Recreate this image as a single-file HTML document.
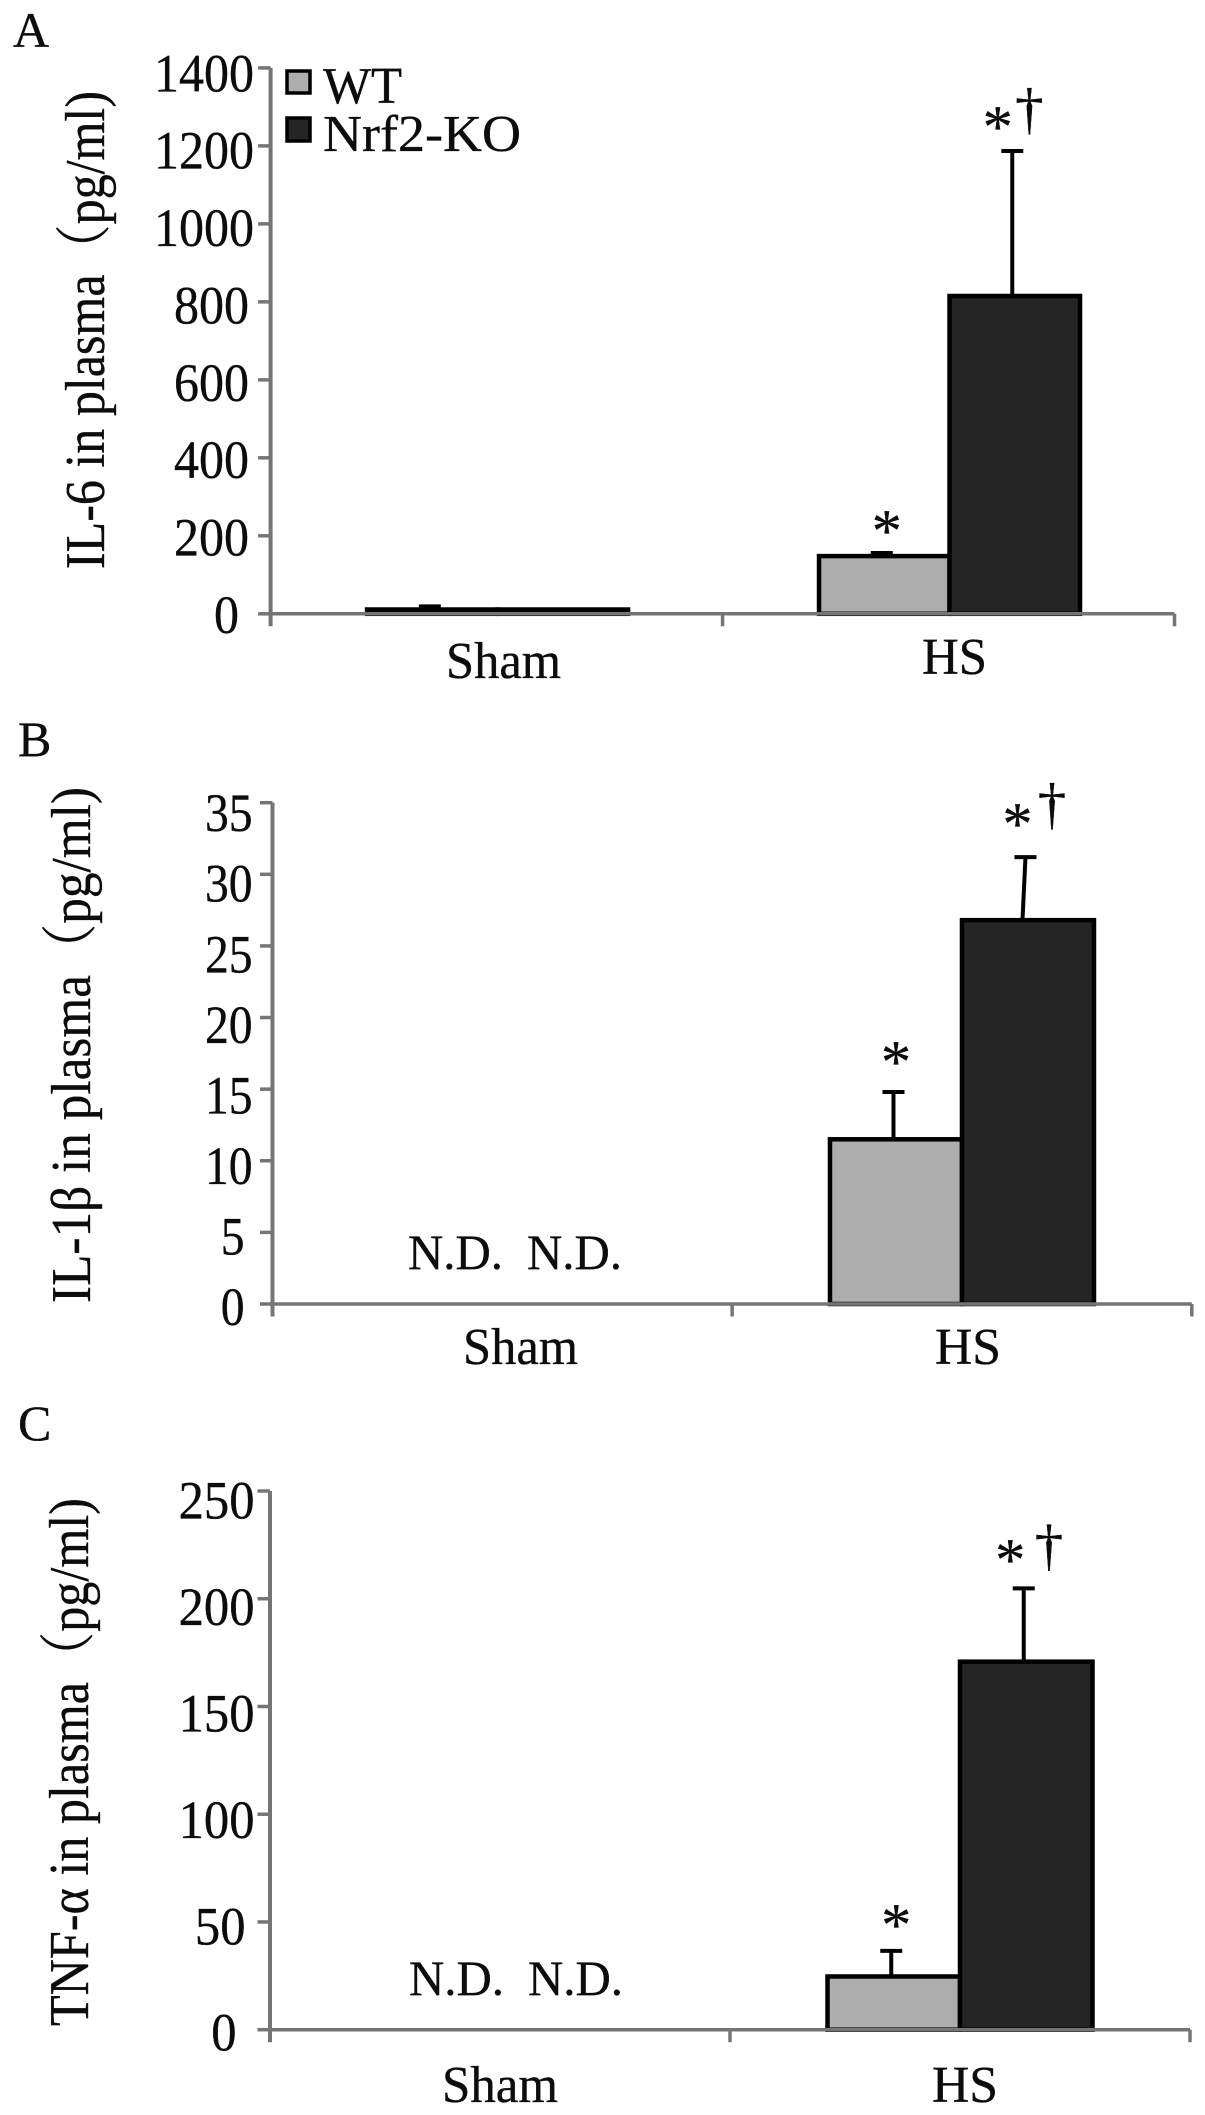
<!DOCTYPE html>
<html lang="en">
<head>
<meta charset="utf-8">
<title>Plasma cytokines in WT and Nrf2-KO</title>
<style>
  html, body { margin: 0; padding: 0; background: #fff; }
  svg { display: block; }
  text { font-family: "Liberation Serif", "Noto Serif CJK SC", serif; fill: #0c0c0c; stroke: #0c0c0c; stroke-width: 0.35; }
</style>
</head>
<body>
<svg id="figure" xmlns="http://www.w3.org/2000/svg" width="1205" height="2115" viewBox="0 0 1205 2115">
  <rect x="0" y="0" width="1205" height="2115" fill="#ffffff"/>

  <text x="13" y="47" font-size="50">A</text>
  <text x="18" y="756" font-size="50">B</text>
  <text x="18" y="1440" font-size="50">C</text>

  <text transform="rotate(-90 104 569)" x="104" y="569" font-size="56" textLength="478" lengthAdjust="spacingAndGlyphs">IL-6 in plasma（pg/ml)</text>
  <text transform="rotate(-90 90 1303)" x="90" y="1303" font-size="56" textLength="516" lengthAdjust="spacingAndGlyphs">IL-1β in plasma（pg/ml)</text>
  <text transform="rotate(-90 88 2026)" x="88" y="2026" font-size="56" textLength="528" lengthAdjust="spacingAndGlyphs">TNF-α in plasma（pg/ml)</text>

  <g id="panel-a"></g>
  <g id="panel-b"></g>
  <g id="panel-c"></g>

  <g>
    <rect x="287" y="71" width="23" height="22" fill="#adadad" stroke="#000" stroke-width="3.5"/>
    <text x="323" y="103" font-size="52" textLength="79" lengthAdjust="spacingAndGlyphs">WT</text>
    <rect x="287" y="118" width="23" height="23" fill="#252525" stroke="#000" stroke-width="3.5"/>
    <text x="323" y="151" font-size="52" textLength="198" lengthAdjust="spacingAndGlyphs">Nrf2-KO</text>
  </g>
</svg>

<script>
// ---- Chart data ----
const categories = ['Sham', 'HS'];

const il6Ticks = [0, 200, 400, 600, 800, 1000, 1200, 1400];
const il6Wt = [11, 148];
const il6Ko = [11, 815];
const il6WtErrTop = [19, 156];
const il6KoErrTop = [11, 1187];

const il1bTicks = [0, 5, 10, 15, 20, 25, 30, 35];
const il1bWt = [null, 11.5];
const il1bKo = [null, 26.8];
const il1bWtErrTop = [null, 14.8];
const il1bKoErrTop = [null, 31.2];

const tnfaTicks = [0, 50, 100, 150, 200, 250];
const tnfaWt = [null, 24.7];
const tnfaKo = [null, 170.8];
const tnfaWtErrTop = [null, 36.6];
const tnfaKoErrTop = [null, 204.8];

const notDetectedLabel = 'N.D.';
const wtMarker = '*';
const koMarkerStar = '*';
const koMarkerDagger = '†';

// ---- Layout of each panel ----
const layoutA = {
  id: 'panel-a', x0: 270.6, x1: 1174.5, yTop: 67.9, yBottom: 613.8, yMax: 1400,
  barW: 130.5, shift: 1, stemShift: -2.5, koLean: 0,
  labelRight: 254, labelStep: 5, digitW: 25, tickDyBottom: 19, tickDyTop: 23.5,
  catBase: [678, 674], catX: [446, 922], catW: [115, 65],
  ndX: [], ndBase: 0,
  wtStar: [2.5, -28], koStar: [-17, -30], dagger: [14.6, -40]
};
const layoutB = {
  id: 'panel-b', x0: 272.5, x1: 1191.8, yTop: 802.7, yBottom: 1304, yMax: 35,
  barW: 132, shift: 0, stemShift: -2.5, koLean: -3,
  labelRight: 252.6, labelStep: 8, digitW: 23.8, tickDyBottom: 21, tickDyTop: 28.5,
  catBase: [1364, 1364], catX: [463, 935], catW: [115, 66],
  ndX: [408, 527], ndBase: 1269,
  wtStar: [0, -36], koStar: [-10.5, -39], dagger: [24, -51]
};
const layoutC = {
  id: 'panel-c', x0: 270, x1: 1190, yTop: 1491, yBottom: 2029.7, yMax: 250,
  barW: 132.5, shift: 0, stemShift: -2.5, koLean: 0,
  labelRight: 254.5, labelStep: 9, digitW: 25.3, tickDyBottom: 21, tickDyTop: 27.5,
  catBase: [2102, 2102], catX: [442, 932], catW: [116, 66],
  ndX: [409, 528], ndBase: 1995,
  wtStar: [2.5, -32], koStar: [-16, -34.6], dagger: [22.7, -41]
};

const SVG_NS = 'http://www.w3.org/2000/svg';
const AXIS_COLOR = '#757575';
const TICK_LEN = 12.5;

function line(parent, x1, y1, x2, y2, color, width) {
  const l = document.createElementNS(SVG_NS, 'line');
  l.setAttribute('x1', x1);
  l.setAttribute('y1', y1);
  l.setAttribute('x2', x2);
  l.setAttribute('y2', y2);
  l.setAttribute('stroke', color);
  l.setAttribute('stroke-width', width);
  parent.appendChild(l);
  return l;
}

function label(parent, str, x, y, size, anchor, len) {
  const t = document.createElementNS(SVG_NS, 'text');
  t.setAttribute('x', x);
  t.setAttribute('y', y);
  t.setAttribute('font-size', size);
  if (anchor) t.setAttribute('text-anchor', anchor);
  if (len) {
    t.setAttribute('textLength', len);
    t.setAttribute('lengthAdjust', 'spacingAndGlyphs');
  }
  t.textContent = str;
  parent.appendChild(t);
  return t;
}

function bar(parent, x, y, w, h, fill) {
  const r = document.createElementNS(SVG_NS, 'rect');
  r.setAttribute('x', x);
  r.setAttribute('y', y);
  r.setAttribute('width', w);
  r.setAttribute('height', h);
  r.setAttribute('fill', fill);
  r.setAttribute('stroke', '#000');
  r.setAttribute('stroke-width', 4.5);
  parent.appendChild(r);
  return r;
}

function errorBar(parent, cxTop, cxBase, yBar, yTop, prefix) {
  const stem = line(parent, cxBase, yBar, cxTop, yTop, '#000', 4);
  
  
  const cap = line(parent, cxTop - 11, yTop, cxTop + 11, yTop, '#000', 4);
  
  
}

function drawPanel(cfg, ticks, wt, ko, wtErr, koErr) {
  const g = document.getElementById(cfg.id);
  const yScale = v => cfg.yBottom - (v / cfg.yMax) * (cfg.yBottom - cfg.yTop);
  const band = (cfg.x1 - cfg.x0) / categories.length;
  const xCenter = i => cfg.x0 + band * (i + 0.5) + cfg.shift;
  const maxLen = Math.max(...ticks.map(v => String(v).length));
  const maxTick = Math.max(...ticks);

  categories.forEach((cat, i) => {
    const cx = xCenter(i);
    const barLeft = cx - cfg.barW;

    if (wt[i] === null) {
      const nd1 = label(g, notDetectedLabel, cfg.ndX[0], cfg.ndBase, 50, null, 95);
      
      
      const nd2 = label(g, notDetectedLabel, cfg.ndX[1], cfg.ndBase, 50, null, 95);
      
      
    } else {
      const wtY = yScale(wt[i]);
      const koY = yScale(ko[i]);
      const wtBar = bar(g, barLeft, wtY, cfg.barW, cfg.yBottom - wtY, '#adadad');
      
      
      const koBar = bar(g, cx, koY, cfg.barW, cfg.yBottom - koY, '#252525');
      
      

      const wtCx = barLeft + cfg.barW / 2;
      const koCx = cx + cfg.barW / 2;
      const wtStem = wtCx + cfg.stemShift;
      const koStem = koCx + cfg.stemShift;
      if (wtErr[i] > wt[i]) errorBar(g, wtStem, wtStem, wtY, yScale(wtErr[i]), 'wt-' + cat.toLowerCase());
      if (koErr[i] > ko[i]) errorBar(g, koStem, koStem + cfg.koLean, koY, yScale(koErr[i]), 'ko-' + cat.toLowerCase());

      if (i === 1) {
        const s1 = label(g, wtMarker, wtCx + cfg.wtStar[0], yScale(wtErr[i]) + cfg.wtStar[1] + 26, 60, 'middle');
        
        
        const s2 = label(g, koMarkerStar, koCx + cfg.koStar[0], yScale(koErr[i]) + cfg.koStar[1] + 26, 60, 'middle');
        
        
        const d = label(g, koMarkerDagger, koCx + cfg.dagger[0], yScale(koErr[i]) + cfg.dagger[1] + 17, 57, 'middle');
        
        
      }
    }

    const catLabel = label(g, cat, cfg.catX[i], cfg.catBase[i], 52, null, cfg.catW[i]);
    
    
  });

  // y axis, ticks and labels
  const yAxis = line(g, cfg.x0, cfg.yTop, cfg.x0, cfg.yBottom + TICK_LEN, AXIS_COLOR, 4);
  
  
  ticks.forEach(v => {
    const y = yScale(v);
    const tick = line(g, cfg.x0 - TICK_LEN, y, cfg.x0, y, AXIS_COLOR, 3.5);
    
    
    const str = String(v);
    const right = cfg.labelRight - (maxLen - str.length) * cfg.labelStep;
    const dy = cfg.tickDyBottom + (v / maxTick) * (cfg.tickDyTop - cfg.tickDyBottom);
    const tl = label(g, str, right, y + dy, 54, 'end', str.length * cfg.digitW);
    
    
  });

  // x axis and ticks
  const xAxis = line(g, cfg.x0, cfg.yBottom, cfg.x1, cfg.yBottom, AXIS_COLOR, 3.5);
  
  
  for (let i = 1; i <= categories.length; i++) {
    const x = cfg.x0 + band * i;
    const xt = line(g, x, cfg.yBottom, x, cfg.yBottom + TICK_LEN, AXIS_COLOR, 3.5);
    
    
  }
}

drawPanel(layoutA, il6Ticks, il6Wt, il6Ko, il6WtErrTop, il6KoErrTop);
drawPanel(layoutB, il1bTicks, il1bWt, il1bKo, il1bWtErrTop, il1bKoErrTop);
drawPanel(layoutC, tnfaTicks, tnfaWt, tnfaKo, tnfaWtErrTop, tnfaKoErrTop);
</script>
</body>
</html>
